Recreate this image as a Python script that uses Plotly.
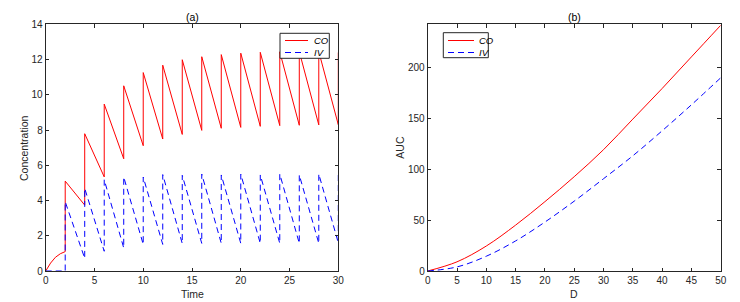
import plotly.graph_objects as go

# ---------------- data: panel (a) ----------------
dose_times = [2, 4, 6, 8, 10, 12, 14, 16, 18, 20, 22, 24, 26, 28, 30]

co_initial_t = [0, 0.5, 1, 1.5, 2]
co_initial = [0, 0.45, 0.78, 0.98, 1.1]
# CO value right after each dose (t = 2..30)
co_peaks = [5.1, 7.79, 9.47, 10.51, 11.26, 11.68, 11.99, 12.16, 12.28, 12.36, 12.41, 12.44, 12.45, 12.45, 12.4]
# CO value right before each dose (t = 4..30)
co_troughs = [3.74, 5.34, 6.37, 7.11, 7.49, 7.75, 7.98, 8.1, 8.15, 8.21, 8.25, 8.27, 8.29, 8.3]

iv_initial_t = [0, 2]
iv_initial = [0, 0]
iv_peaks = [3.93, 4.69, 5.18, 5.33, 5.33, 5.47, 5.43, 5.5, 5.45, 5.5, 5.45, 5.5, 5.45, 5.5, 5.5]
iv_troughs = [0.72, 1.12, 1.31, 1.51, 1.51, 1.56, 1.57, 1.57, 1.57, 1.57, 1.57, 1.57, 1.57, 1.6]

# ---------------- data: panel (b) ----------------
dose_D = [0, 5, 10, 15, 20, 25, 30, 35, 40, 45, 50]
auc_co = [0, 9, 24.5, 45, 68, 92.5, 119, 149, 179, 210, 241]
auc_iv = [0, 4, 14.5, 29.5, 48, 68.5, 90.5, 113, 137.5, 163, 189.5]

legend_names = ["CO", "IV"]


def sawtooth(t0, y0, peaks, troughs):
    t, y = list(t0), list(y0)
    for i, td in enumerate(dose_times):
        t.append(td)
        y.append(peaks[i])
        if i < len(troughs):
            t.append(dose_times[i + 1])
            y.append(troughs[i])
    return t, y


co_t, co_y = sawtooth(co_initial_t, co_initial, co_peaks, co_troughs)
iv_t, iv_y = sawtooth(iv_initial_t, iv_initial, iv_peaks, iv_troughs)

W, H = 740, 302
RED = "#FF0000"
BLUE = "#0000FF"
AX = "#262626"
FONT = "Liberation Sans, Arial, Helvetica, sans-serif"
DASH = "6px,4px"

fig = go.Figure()
fig.add_trace(go.Scatter(x=co_t, y=co_y, mode="lines", name=legend_names[0],
                         line=dict(color=RED, width=1), xaxis="x", yaxis="y"))
fig.add_trace(go.Scatter(x=iv_t, y=iv_y, mode="lines", name=legend_names[1],
                         line=dict(color=BLUE, width=1, dash=DASH), xaxis="x", yaxis="y"))
fig.add_trace(go.Scatter(x=dose_D, y=auc_co, mode="lines", name=legend_names[0],
                         line=dict(color=RED, width=1, shape="spline"), xaxis="x2", yaxis="y2"))
fig.add_trace(go.Scatter(x=dose_D, y=auc_iv, mode="lines", name=legend_names[1],
                         line=dict(color=BLUE, width=1, dash=DASH, shape="spline"), xaxis="x2", yaxis="y2"))


def px_x(p):
    return p / W


def px_y(p):
    return 1 - p / H


ydom = [px_y(271), px_y(24.3)]
axis_common = dict(showline=True, linecolor=AX, linewidth=1, mirror="ticks", ticks="inside",
                   ticklen=3.5, tickcolor=AX, tickwidth=1, showgrid=False, zeroline=False,
                   automargin=False,
                   tickfont=dict(family=FONT, size=10, color=AX))

fig.update_layout(
    width=W, height=H,
    margin=dict(l=0, r=0, t=0, b=0, pad=0),
    paper_bgcolor="white", plot_bgcolor="white",
    showlegend=False,
    hovermode=False,
    xaxis=dict(domain=[px_x(45.7), px_x(338.3)], range=[0, 30], tickvals=[0, 5, 10, 15, 20, 25, 30],
               anchor="y", **axis_common),
    yaxis=dict(domain=ydom, range=[0, 14], tickvals=[0, 2, 4, 6, 8, 10, 12, 14], anchor="x",
               **axis_common),
    xaxis2=dict(domain=[px_x(427.7), px_x(720.7)], range=[0, 50], tickvals=list(range(0, 51, 5)),
                anchor="y2", **axis_common),
    yaxis2=dict(domain=ydom, range=[0, 242], tickvals=[0, 50, 100, 150, 200], anchor="x2",
                **axis_common),
)

# ---- legend boxes (MATLAB style) ----
def add_legend(box, line_x, text_x, rows):
    x0, y0, x1, y1 = box
    fig.add_shape(type="rect", xref="paper", yref="paper",
                  x0=px_x(x0), x1=px_x(x1), y0=px_y(y1), y1=px_y(y0),
                  line=dict(color=AX, width=1), fillcolor="white", layer="above")
    styles = [dict(color=RED, width=1), dict(color=BLUE, width=1, dash=DASH)]
    for name, ry, st in zip(legend_names, rows, styles):
        fig.add_shape(type="line", xref="paper", yref="paper",
                      x0=px_x(line_x[0]), x1=px_x(line_x[1]), y0=px_y(ry), y1=px_y(ry),
                      line=st, layer="above")
        fig.add_annotation(text="<i>%s</i>" % name, xref="paper", yref="paper",
                           x=px_x(text_x), y=px_y(ry), xanchor="left", yanchor="middle",
                           showarrow=False, font=dict(family=FONT, size=9.5, color="black"))


add_legend((280, 33.3, 329.3, 58.3), (285, 308), 311.5, (40.5, 52.5))
add_legend((443.3, 32.7, 488.3, 57.7), (448, 474), 477, (40.5, 52.5))

ann = dict(xref="paper", yref="paper", showarrow=False, xanchor="center", yanchor="middle")
labels = [
    ("(a)", 192, 16.7, 0, "black"),
    ("(b)", 574.2, 16.7, 0, "black"),
    ("Time", 192, 294, 0, AX),
    ("D", 574.2, 294, 0, AX),
    ("Concentration", 23.3, 147.7, -90, AX),
    ("AUC", 400, 147.7, -90, AX),
]
for text, x, y, ang, col in labels:
    fig.add_annotation(text=text, x=px_x(x), y=px_y(y), textangle=ang,
                       font=dict(family=FONT, size=10.5, color=col), **ann)

fig.write_html("out.html",
               config={"displayModeBar": False, "staticPlot": True},
               post_script="document.body.style.margin='0';document.body.style.overflow='hidden';")
